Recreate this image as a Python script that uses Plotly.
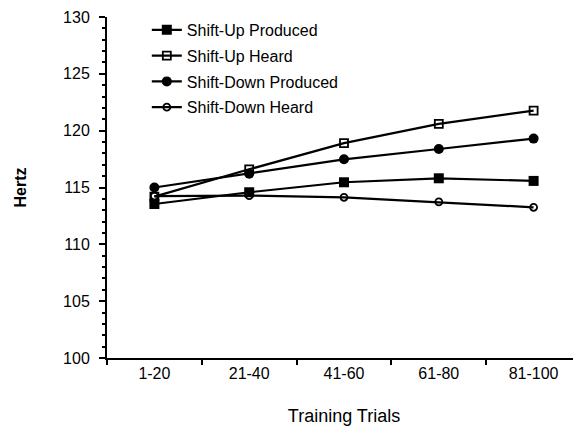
import plotly.graph_objects as go

categories = ["1-20", "21-40", "41-60", "61-80", "81-100"]
shift_up_produced = [113.55, 114.58, 115.46, 115.81, 115.58]
shift_up_heard = [114.2, 116.6, 118.9, 120.6, 121.76]
shift_down_produced = [115.0, 116.22, 117.48, 118.39, 119.3]
shift_down_heard = [114.25, 114.29, 114.14, 113.73, 113.26]
y_ticks = [100, 105, 110, 115, 120, 125, 130]

FONT = "Liberation Sans, Arial, sans-serif"

fig = go.Figure()
series = [
    ("Shift-Up Produced", shift_up_produced, "square", 10, "black", 0),
    ("Shift-Up Heard", shift_up_heard, "square-open", 8, "black", 1.8),
    ("Shift-Down Produced", shift_down_produced, "circle", 10, "black", 0),
    ("Shift-Down Heard", shift_down_heard, "circle-open", 7, "black", 1.8),
]
for i, (name, vals, sym, size, col, lw) in enumerate(series):
    fig.add_trace(go.Scatter(
        x=categories, y=vals, name=name, mode="lines+markers",
        legendgroup=f"g{i}",
        line=dict(color="black", width=2.2),
        marker=dict(symbol=sym, size=size, color=col,
                    line=dict(color="black", width=lw)),
    ))

fig.update_layout(
    width=573, height=419,
    margin=dict(l=99, r=0, t=9, b=69, autoexpand=False),
    paper_bgcolor="white", plot_bgcolor="white",
    font=dict(family=FONT, size=16, color="black"),
    showlegend=True,
    legend=dict(x=0.084, y=1.012, xanchor="left", yanchor="top",
                bgcolor="rgba(0,0,0,0)", font=dict(size=16, family=FONT),
                tracegroupgap=2, itemwidth=30),
    xaxis=dict(
        type="category", range=[-0.5, 4.5], tickson="boundaries",
        showline=True, linecolor="black", linewidth=2,
        ticks="outside", ticklen=5, tickwidth=2, tickcolor="black",
        showgrid=False, zeroline=False,
        tickfont=dict(size=16, family=FONT),
        title=dict(text="Training Trials", font=dict(size=18, family=FONT), standoff=28),
    ),
    yaxis=dict(
        range=[100, 130], tickvals=y_ticks,
        showline=True, linecolor="black", linewidth=2,
        ticks="outside", ticklen=6, tickwidth=2, tickcolor="black",
        ticklabelstandoff=6,
        minor=dict(dtick=1, ticks="outside", ticklen=3, tickwidth=1.5, tickcolor="black", showgrid=False),
        showgrid=False, zeroline=False,
        tickfont=dict(size=16, family=FONT),
        title=dict(text="<b>Hertz</b>", font=dict(size=16, family=FONT), standoff=32),
    ),
)

fig.write_html("out.html")
